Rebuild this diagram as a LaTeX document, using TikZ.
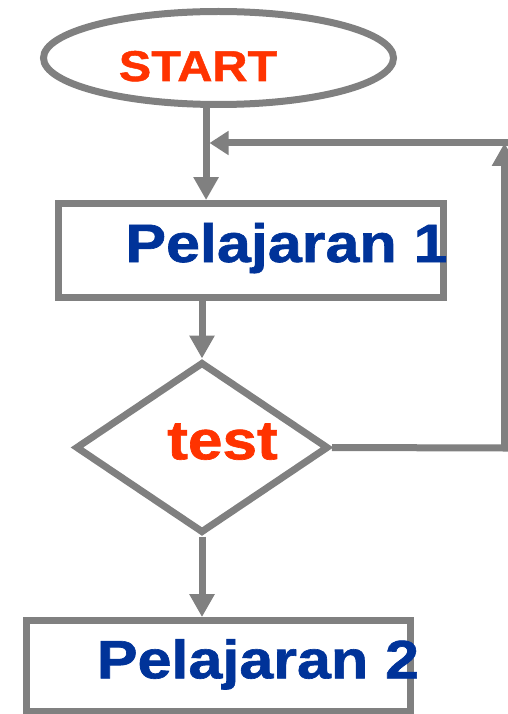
\documentclass[tikz,border=0pt]{standalone}
\usepackage{fontspec}
\setmainfont{Liberation Sans}
\newfontfamily\flowfont[FakeStretch=1.13,FakeBold=1.2]{Liberation Sans Bold}
\usetikzlibrary{shapes.geometric,arrows.meta}
\definecolor{linegray}{RGB}{128,128,128}
\definecolor{startred}{RGB}{255,51,0}
\definecolor{lessonblue}{RGB}{0,51,153}

\begin{document}
\begin{tikzpicture}[x=1pt,y=-1pt,
	box/.style={draw=linegray,line width=7pt,inner sep=0pt},
	flow/.style={draw=linegray,line width=7pt,-{Triangle[width=24pt,length=23pt]}},
	back/.style={draw=linegray,line width=7pt,line cap=rect,-{Triangle[width=23pt,length=19pt]}},
	redtext/.style={text=startred,font=\flowfont\fontsize{43}{48}\selectfont,anchor=base},
	bluetext/.style={text=lessonblue,font=\flowfont\fontsize{54}{60}\selectfont,anchor=base}]
	\useasboundingbox (0,0) rectangle (508,714);
	% shapes
	\node[box,ellipse,minimum width=350pt,minimum height=93pt] (start) at (218.5,58) {};
	\node[box,rectangle,minimum width=385pt,minimum height=93.5pt] (p1) at (250.5,250.3) {};
	\node[box,diamond,minimum width=253pt,minimum height=171pt] (test) at (202,447.5) {};
	\node[box,rectangle,minimum width=384pt,minimum height=90.5pt] (p2) at (218.5,665.8) {};
	% texts
	\node[redtext] (starttxt) at (198,81) {START};
	\node[bluetext] (p1txt) at (286.5,262) {Pelajaran 1};
	\node[redtext,font=\flowfont\fontsize{55}{60}\selectfont] (testtxt) at (222.5,459.3) {test};
	\node[bluetext] (p2txt) at (258,678.3) {Pelajaran 2};
	% loop back
	\coordinate (loopfoot) at (504.5,448);
	\coordinate (loophead) at (504.5,143);
	\coordinate (loopjoin) at (209.5,143);
	% connectors
	\draw[flow] (start.-104) -- (start.-104 |- p1.north);
	\draw[flow] (test.north |- p1.south) -- (test.north);
	\draw[flow] (test.south) -- (test.south |- p2.north);
	\draw[flow] (test.east) -- (loopfoot) -- (loophead);
	\draw[back] (loophead) -- (loopjoin);
\end{tikzpicture}
\end{document}
